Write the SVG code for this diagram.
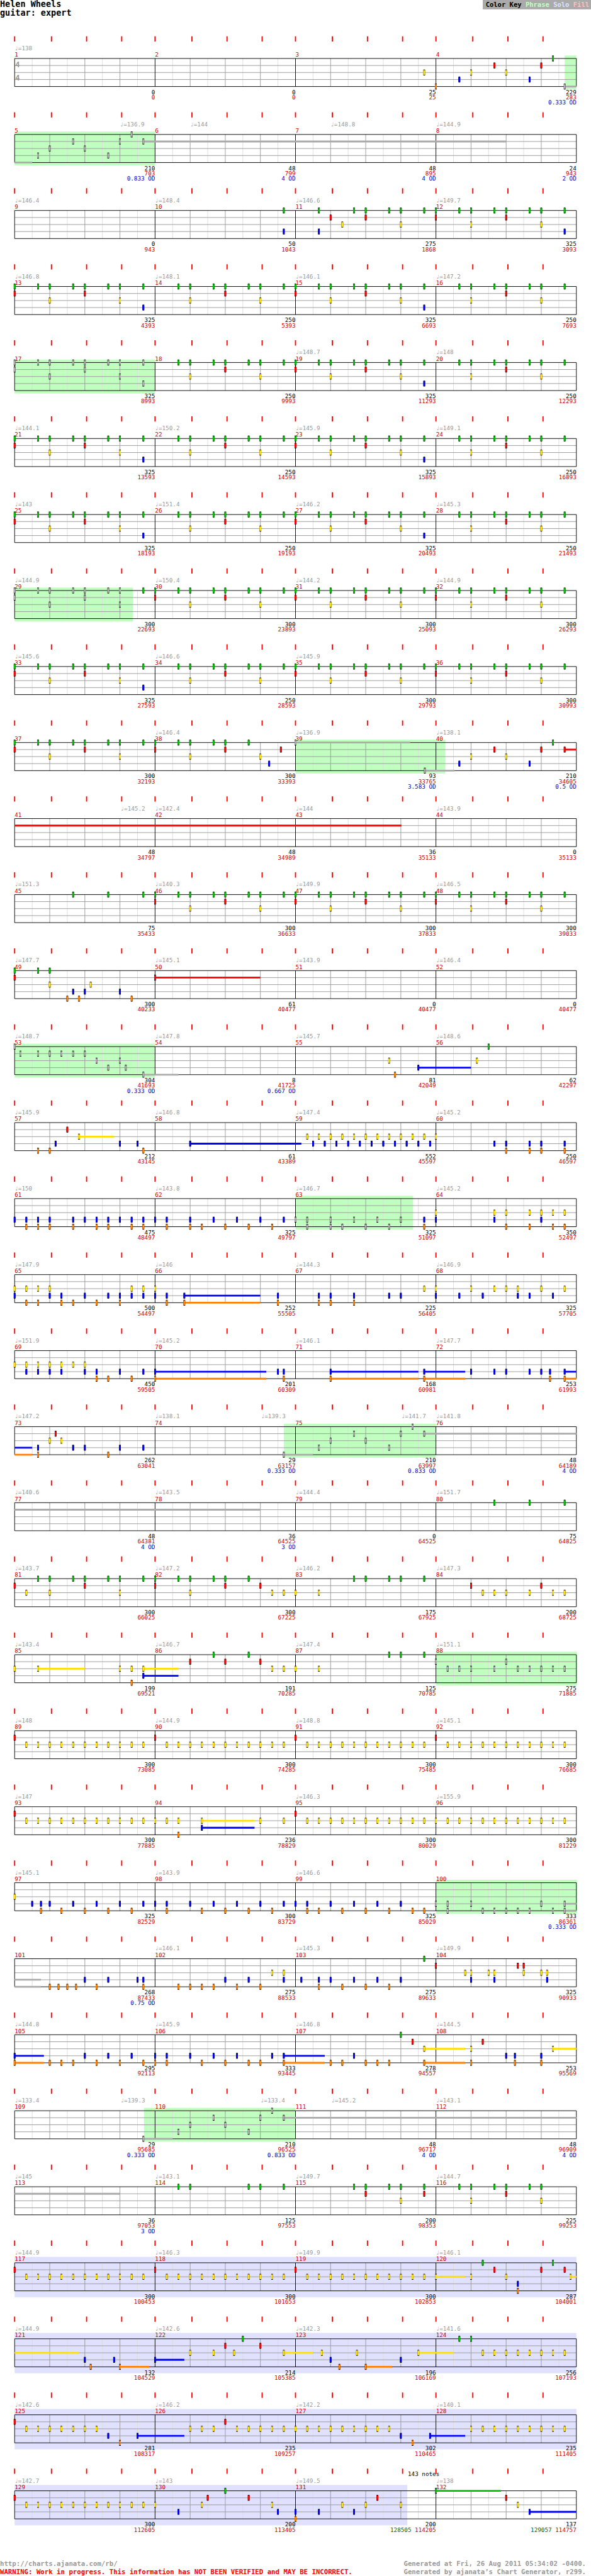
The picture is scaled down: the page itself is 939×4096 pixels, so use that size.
<svg xmlns="http://www.w3.org/2000/svg" width="939" height="4096" viewBox="0 0 939 4096">
<style>
text{font-family:"DejaVu Sans Mono","Liberation Mono",monospace;font-size:10px;fill:#000}
.tm{fill:#999}.mn{fill:#c00}.nr{fill:#c00}.nd{fill:#00c}.ng{fill:#060}
.e{text-anchor:end}
.ts{font-size:13px;font-weight:bold;fill:#999}
.ft{font-size:11.5px;font-weight:bold}
.ln{stroke:#999;stroke-width:1;fill:none}
.lt{stroke:#ddd;stroke-width:1;fill:none}
.bk{stroke:#000;stroke-width:1;fill:none}
.tk{stroke:#f00;stroke-width:2;fill:none}
.ph{fill:#c0ffc0}.so{fill:#e0e0ff}
.sG,.sR,.sY,.sB,.sO,.sS{stroke-width:3;fill:none}
.sG{stroke:#00c000}.sR{stroke:#f00}.sY{stroke:#ffe000}.sB{stroke:#00f}.sO{stroke:#ff8000}.sS{stroke:#aaa}
</style>
<defs>
<g id="staff">
<path class="lt" d="M55 0v48M115 0v48M175 0v48M235 0v48M295 0v48M355 0v48M415 0v48M475 0v48M535 0v48M595 0v48M655 0v48M715 0v48M775 0v48M835 0v48M895 0v48M955 0v48"/>
<path class="ln" d="M85 0v48M145 0v48M205 0v48M325 0v48M385 0v48M445 0v48M565 0v48M625 0v48M685 0v48M805 0v48M865 0v48M925 0v48M25 12H985M25 24H985M25 36H985"/>
<path class="bk" d="M25 0H985V48H25ZM265 0v48M505 0v48M745 0v48"/>
<path class="tk" d="M25 -38v9M88 -38v9M148 -38v9M208 -38v9M265 -38v9M328 -38v9M388 -38v9M448 -38v9M505 -38v9M568 -38v9M628 -38v9M688 -38v9M745 -38v9M808 -38v9M868 -38v9M928 -38v9"/>
</g>
<g id="G"><rect x="-1.5" y="-5" width="3" height="10"/><rect x="-1.5" y="-4" width="3" height="8" fill="#00c000"/></g>
<g id="R"><rect x="-1.5" y="7" width="3" height="10"/><rect x="-1.5" y="8" width="3" height="8" fill="#f00"/></g>
<g id="Y"><rect x="-1.5" y="19" width="3" height="10"/><rect x="-1.5" y="20" width="3" height="8" fill="#ffe000"/></g>
<g id="B"><rect x="-1.5" y="31" width="3" height="10"/><rect x="-1.5" y="32" width="3" height="8" fill="#00f"/></g>
<g id="O"><rect x="-1.5" y="43" width="3" height="10"/><rect x="-1.5" y="44" width="3" height="8" fill="#ff8000"/></g>
<g id="S0"><rect x="-1.5" y="-5" width="3" height="10"/><rect x="-1.5" y="-4" width="3" height="8" fill="#aaa"/></g>
<g id="S1"><rect x="-1.5" y="7" width="3" height="10"/><rect x="-1.5" y="8" width="3" height="8" fill="#aaa"/></g>
<g id="S2"><rect x="-1.5" y="19" width="3" height="10"/><rect x="-1.5" y="20" width="3" height="8" fill="#aaa"/></g>
<g id="S3"><rect x="-1.5" y="31" width="3" height="10"/><rect x="-1.5" y="32" width="3" height="8" fill="#aaa"/></g>
<g id="S4"><rect x="-1.5" y="43" width="3" height="10"/><rect x="-1.5" y="44" width="3" height="8" fill="#aaa"/></g>
<g id="Y11"><use href="#Y"/><use href="#Y" x="20"/><use href="#Y" x="40"/><use href="#Y" x="60"/><use href="#Y" x="80"/><use href="#Y" x="100"/><use href="#Y" x="120"/><use href="#Y" x="140"/><use href="#Y" x="160"/><use href="#Y" x="180"/><use href="#Y" x="200"/></g>
<g id="B11"><use href="#B"/><use href="#B" x="20"/><use href="#B" x="40"/><use href="#B" x="60"/><use href="#B" x="80"/><use href="#B" x="100"/><use href="#B" x="120"/><use href="#B" x="140"/><use href="#B" x="160"/><use href="#B" x="180"/><use href="#B" x="200"/></g>
<g id="PY"><use href="#R"/><use href="#Y11" x="20"/></g>
<g id="PB"><use href="#G" x="40"/><use href="#G" x="60"/><use href="#Y" x="60"/><use href="#G" x="100"/><use href="#G" x="120"/><use href="#R" x="120"/><use href="#G" x="160"/><use href="#G" x="180"/><use href="#Y" x="180"/><use href="#G" x="220"/></g>
<g id="PA0"><use href="#G"/><use href="#R"/><use href="#PB"/></g>
<g id="PA"><use href="#PA0"/><use href="#B" x="220"/></g>
<g id="PAs"><use href="#S0"/><use href="#S1"/><use href="#S0" x="40"/><use href="#S0" x="60"/><use href="#S2" x="60"/><use href="#S0" x="100"/><use href="#S0" x="120"/><use href="#S1" x="120"/><use href="#S0" x="160"/><use href="#S0" x="180"/><use href="#S2" x="180"/><use href="#S0" x="220"/><use href="#S3" x="220"/></g>
</defs>
<rect width="939" height="4096" fill="#fff"/>
<g transform="scale(0.9297)">
<g id="header">
<text x="0" y="12" style="font-size:14.5px;font-weight:bold">Helen Wheels</text>
<text x="0" y="27" style="font-size:14.5px;font-weight:bold">guitar: expert</text>
<rect x="825" y="0" width="185" height="16" fill="#aaa"/>
<text x="830" y="12" style="font-size:11.3px;font-weight:bold"><tspan>Color Key</tspan> <tspan style="fill:#c0ffc0">Phrase</tspan> <tspan style="fill:#e0e0ff">Solo</tspan> <tspan style="fill:#ffc0c0">Fill</tspan></text>
</g>

<g id="r1" transform="translate(0,100)">
<rect class="ph" x="965" y="-5" width="20" height="58"/>
<use href="#staff"/>
<text class="ts" x="26" y="15">4</text><text class="ts" x="26" y="38">4</text>
<text class="tm" x="25" y="-14">♩=138</text>
<text class="mn" y="-3"><tspan x="25">1</tspan><tspan x="265">2</tspan><tspan x="505">3</tspan><tspan x="745">4</tspan></text>
<text class="e" y="61"><tspan x="265">0</tspan><tspan x="505">0</tspan><tspan x="745">25</tspan><tspan x="985">229</tspan></text>
<text class="e nr" y="70"><tspan x="265">0</tspan><tspan x="505">0</tspan><tspan x="745">25</tspan><tspan x="985">283</tspan></text>
<text class="e nd" y="79" x="985">0.333 OD</text>
<g transform="translate(25,0)"><path class="sS" d="M940 48H960"/>
<use href="#Y" x="700"/><use href="#O" x="720"/><use href="#B" x="760"/><use href="#Y" x="780"/><use href="#R" x="820"/><use href="#Y" x="840"/><use href="#B" x="880"/><use href="#R" x="900"/><use href="#G" x="920"/><use href="#S4" x="940"/></g>
</g>

<g id="r2" transform="translate(0,230)">
<rect class="ph" x="25" y="-5" width="240" height="58"/>
<use href="#staff"/>
<text class="tm" y="-14"><tspan x="205">♩=136.9</tspan><tspan x="325">♩=144</tspan><tspan x="565">♩=148.8</tspan><tspan x="745">♩=144.9</tspan></text>
<text class="mn" y="-3"><tspan x="25">5</tspan><tspan x="265">6</tspan><tspan x="505">7</tspan><tspan x="745">8</tspan></text>
<text class="e" y="61"><tspan x="265">210</tspan><tspan x="505">48</tspan><tspan x="745">48</tspan><tspan x="985">24</tspan></text>
<text class="e nr" y="70"><tspan x="265">703</tspan><tspan x="505">799</tspan><tspan x="745">895</tspan><tspan x="985">943</tspan></text>
<text class="e nd" y="79"><tspan x="265">0.833 OD</tspan><tspan x="505">4 OD</tspan><tspan x="745">4 OD</tspan><tspan x="985">2 OD</tspan></text>
<g transform="translate(25,0)"><path class="sS" d="M0 48H30M220 12H840"/>
<use href="#S3" x="40"/><use href="#S2" x="60"/><use href="#S1" x="100"/><use href="#S2" x="120"/><use href="#S3" x="160"/><use href="#S1" x="180"/><use href="#S0" x="200"/><use href="#S1" x="220"/></g>
</g>

<g id="r3" transform="translate(0,360)">
<use href="#staff"/>
<text class="tm" y="-14"><tspan x="25">♩=146.4</tspan><tspan x="265">♩=148.4</tspan><tspan x="505">♩=146.6</tspan><tspan x="745">♩=149.7</tspan></text>
<text class="mn" y="-3"><tspan x="25">9</tspan><tspan x="265">10</tspan><tspan x="505">11</tspan><tspan x="745">12</tspan></text>
<text class="e" y="61"><tspan x="265">0</tspan><tspan x="505">50</tspan><tspan x="745">275</tspan><tspan x="985">325</tspan></text>
<text class="e nr" y="70"><tspan x="265">943</tspan><tspan x="505">1043</tspan><tspan x="745">1868</tspan><tspan x="985">3093</tspan></text>
<g transform="translate(25,0)">
<use href="#G" x="460"/><use href="#B" x="460"/><use href="#G" x="520"/><use href="#B" x="520"/><use href="#R" x="540"/><use href="#Y" x="560"/><use href="#G" x="580"/><use href="#G" x="600"/><use href="#R" x="600"/><use href="#G" x="640"/><use href="#G" x="660"/><use href="#Y" x="660"/><use href="#G" x="700"/><use href="#PA" x="720"/></g>
</g>

<g id="r4" transform="translate(0,490)">
<use href="#staff"/>
<text class="tm" y="-14"><tspan x="25">♩=146.8</tspan><tspan x="265">♩=148.1</tspan><tspan x="505">♩=146.1</tspan><tspan x="745">♩=147.2</tspan></text>
<text class="mn" y="-3"><tspan x="25">13</tspan><tspan x="265">14</tspan><tspan x="505">15</tspan><tspan x="745">16</tspan></text>
<text class="e" y="61"><tspan x="265">325</tspan><tspan x="505">250</tspan><tspan x="745">325</tspan><tspan x="985">250</tspan></text>
<text class="e nr" y="70"><tspan x="265">4393</tspan><tspan x="505">5393</tspan><tspan x="745">6693</tspan><tspan x="985">7693</tspan></text>
<g transform="translate(25,0)"><use href="#PA"/><use href="#PB" x="240"/><use href="#PA" x="480"/><use href="#PB" x="720"/></g>
</g>

<g id="r5" transform="translate(0,620)">
<rect class="ph" x="25" y="-5" width="240" height="58"/>
<use href="#staff"/>
<text class="tm" y="-14"><tspan x="505">♩=148.7</tspan><tspan x="745">♩=148</tspan></text>
<text class="mn" y="-3"><tspan x="25">17</tspan><tspan x="265">18</tspan><tspan x="505">19</tspan><tspan x="745">20</tspan></text>
<text class="e" y="61"><tspan x="265">325</tspan><tspan x="505">250</tspan><tspan x="745">325</tspan><tspan x="985">250</tspan></text>
<text class="e nr" y="70"><tspan x="265">8993</tspan><tspan x="505">9993</tspan><tspan x="745">11293</tspan><tspan x="985">12293</tspan></text>
<g transform="translate(25,0)"><use href="#PAs"/><use href="#PB" x="240"/><use href="#PA" x="480"/><use href="#PB" x="720"/></g>
</g>

<g id="r6" transform="translate(0,750)">
<use href="#staff"/>
<text class="tm" y="-14"><tspan x="25">♩=144.1</tspan><tspan x="265">♩=150.2</tspan><tspan x="505">♩=145.9</tspan><tspan x="745">♩=149.1</tspan></text>
<text class="mn" y="-3"><tspan x="25">21</tspan><tspan x="265">22</tspan><tspan x="505">23</tspan><tspan x="745">24</tspan></text>
<text class="e" y="61"><tspan x="265">325</tspan><tspan x="505">250</tspan><tspan x="745">325</tspan><tspan x="985">250</tspan></text>
<text class="e nr" y="70"><tspan x="265">13593</tspan><tspan x="505">14593</tspan><tspan x="745">15893</tspan><tspan x="985">16893</tspan></text>
<g transform="translate(25,0)"><use href="#PA"/><use href="#PB" x="240"/><use href="#PA" x="480"/><use href="#PB" x="720"/></g>
</g>

<g id="r7" transform="translate(0,880)">
<use href="#staff"/>
<text class="tm" y="-14"><tspan x="25">♩=143</tspan><tspan x="265">♩=151.4</tspan><tspan x="505">♩=146.2</tspan><tspan x="745">♩=145.3</tspan></text>
<text class="mn" y="-3"><tspan x="25">25</tspan><tspan x="265">26</tspan><tspan x="505">27</tspan><tspan x="745">28</tspan></text>
<text class="e" y="61"><tspan x="265">325</tspan><tspan x="505">250</tspan><tspan x="745">325</tspan><tspan x="985">250</tspan></text>
<text class="e nr" y="70"><tspan x="265">18193</tspan><tspan x="505">19193</tspan><tspan x="745">20493</tspan><tspan x="985">21493</tspan></text>
<g transform="translate(25,0)"><use href="#PA"/><use href="#PB" x="240"/><use href="#PA" x="480"/><use href="#PB" x="720"/></g>
</g>

<g id="r8" transform="translate(0,1010)">
<rect class="ph" x="25" y="-5" width="202" height="58"/>
<use href="#staff"/>
<text class="tm" y="-14"><tspan x="25">♩=144.9</tspan><tspan x="265">♩=150.4</tspan><tspan x="505">♩=144.2</tspan><tspan x="745">♩=144.9</tspan></text>
<text class="mn" y="-3"><tspan x="25">29</tspan><tspan x="265">30</tspan><tspan x="505">31</tspan><tspan x="745">32</tspan></text>
<text class="e" y="61"><tspan x="265">300</tspan><tspan x="505">300</tspan><tspan x="745">300</tspan><tspan x="985">300</tspan></text>
<text class="e nr" y="70"><tspan x="265">22693</tspan><tspan x="505">23893</tspan><tspan x="745">25093</tspan><tspan x="985">26293</tspan></text>
<g transform="translate(25,0)"><use href="#S0"/><use href="#S1"/><use href="#S0" x="40"/><use href="#S0" x="60"/><use href="#S2" x="60"/><use href="#S0" x="100"/><use href="#S0" x="120"/><use href="#S1" x="120"/><use href="#S0" x="160"/><use href="#S0" x="180"/><use href="#S2" x="180"/><use href="#G" x="220"/><use href="#PA0" x="240"/><use href="#PA0" x="480"/><use href="#PA0" x="720"/></g>
</g>

<g id="r9" transform="translate(0,1140)">
<use href="#staff"/>
<text class="tm" y="-14"><tspan x="25">♩=145.6</tspan><tspan x="265">♩=146.6</tspan><tspan x="505">♩=145.9</tspan></text>
<text class="mn" y="-3"><tspan x="25">33</tspan><tspan x="265">34</tspan><tspan x="505">35</tspan><tspan x="745">36</tspan></text>
<text class="e" y="61"><tspan x="265">325</tspan><tspan x="505">250</tspan><tspan x="745">300</tspan><tspan x="985">300</tspan></text>
<text class="e nr" y="70"><tspan x="265">27593</tspan><tspan x="505">28593</tspan><tspan x="745">29793</tspan><tspan x="985">30993</tspan></text>
<g transform="translate(25,0)"><use href="#PA"/><use href="#PB" x="240"/><use href="#PA0" x="480"/><use href="#PA0" x="720"/></g>
</g>

<g id="r10" transform="translate(0,1270)">
<rect class="ph" x="505" y="-5" width="256" height="58"/>
<use href="#staff"/>
<text class="tm" y="-14"><tspan x="265">♩=146.4</tspan><tspan x="505">♩=136.9</tspan><tspan x="745">♩=138.1</tspan></text>
<text class="mn" y="-3"><tspan x="25">37</tspan><tspan x="265">38</tspan><tspan x="505">39</tspan><tspan x="745">40</tspan></text>
<text class="e" y="61"><tspan x="265">300</tspan><tspan x="505">300</tspan><tspan x="745">93</tspan><tspan x="985">210</tspan></text>
<text class="e nr" y="70"><tspan x="265">32193</tspan><tspan x="505">33393</tspan><tspan x="745">33765</tspan><tspan x="985">34605</tspan></text>
<text class="e nd" y="79"><tspan x="745">3.583 OD</tspan><tspan x="985">0.5 OD</tspan></text>
<g transform="translate(25,0)"><path class="sS" d="M480 0H676M701 48H752"/><path class="sR" d="M940 12H960"/>
<use href="#PA0"/><use href="#G" x="240"/><use href="#R" x="240"/><use href="#G" x="280"/><use href="#G" x="300"/><use href="#Y" x="300"/><use href="#G" x="340"/><use href="#G" x="360"/><use href="#R" x="360"/><use href="#G" x="400"/><use href="#Y" x="420"/><use href="#B" x="435"/><use href="#R" x="455"/><use href="#S0" x="480"/><use href="#S4" x="701"/><use href="#B" x="760"/><use href="#Y" x="780"/><use href="#R" x="820"/><use href="#Y" x="840"/><use href="#B" x="880"/><use href="#R" x="900"/><use href="#G" x="920"/><use href="#R" x="940"/></g>
</g>

<g id="r11" transform="translate(0,1400)">
<use href="#staff"/>
<text class="tm" y="-14"><tspan x="206">♩=145.2</tspan><tspan x="265">♩=142.4</tspan><tspan x="505">♩=144</tspan><tspan x="745">♩=143.9</tspan></text>
<text class="mn" y="-3"><tspan x="25">41</tspan><tspan x="265">42</tspan><tspan x="505">43</tspan><tspan x="745">44</tspan></text>
<text class="e" y="61"><tspan x="265">48</tspan><tspan x="505">48</tspan><tspan x="745">36</tspan><tspan x="985">0</tspan></text>
<text class="e nr" y="70"><tspan x="265">34797</tspan><tspan x="505">34989</tspan><tspan x="745">35133</tspan><tspan x="985">35133</tspan></text>
<g transform="translate(25,0)"><path class="sR" d="M0 12H661"/></g>
</g>

<g id="r12" transform="translate(0,1530)">
<use href="#staff"/>
<text class="tm" y="-14"><tspan x="25">♩=151.3</tspan><tspan x="265">♩=140.3</tspan><tspan x="505">♩=149.9</tspan><tspan x="745">♩=146.5</tspan></text>
<text class="mn" y="-3"><tspan x="25">45</tspan><tspan x="265">46</tspan><tspan x="505">47</tspan><tspan x="745">48</tspan></text>
<text class="e" y="61"><tspan x="265">75</tspan><tspan x="505">300</tspan><tspan x="745">300</tspan><tspan x="985">300</tspan></text>
<text class="e nr" y="70"><tspan x="265">35433</tspan><tspan x="505">36633</tspan><tspan x="745">37833</tspan><tspan x="985">39033</tspan></text>
<g transform="translate(25,0)"><use href="#G" x="100"/><use href="#G" x="160"/><use href="#G" x="220"/><use href="#PA0" x="240"/><use href="#PA0" x="480"/><use href="#PA0" x="720"/></g>
</g>

<g id="r13" transform="translate(0,1660)">
<use href="#staff"/>
<text class="tm" y="-14"><tspan x="25">♩=147.7</tspan><tspan x="265">♩=145.1</tspan><tspan x="505">♩=143.9</tspan><tspan x="745">♩=146.4</tspan></text>
<text class="mn" y="-3"><tspan x="25">49</tspan><tspan x="265">50</tspan><tspan x="505">51</tspan><tspan x="745">52</tspan></text>
<text class="e" y="61"><tspan x="265">300</tspan><tspan x="505">61</tspan><tspan x="745">0</tspan><tspan x="985">0</tspan></text>
<text class="e nr" y="70"><tspan x="265">40233</tspan><tspan x="505">40477</tspan><tspan x="745">40477</tspan><tspan x="985">40477</tspan></text>
<g transform="translate(25,0)"><path class="sR" d="M240 12H420"/>
<use href="#G"/><use href="#R"/><use href="#G" x="40"/><use href="#G" x="60"/><use href="#Y" x="60"/><use href="#O" x="90"/><use href="#B" x="100"/><use href="#O" x="110"/><use href="#B" x="120"/><use href="#Y" x="130"/><use href="#B" x="180"/><use href="#O" x="200"/><use href="#R" x="240"/></g>
</g>

<g id="r14" transform="translate(0,1790)">
<rect class="ph" x="25" y="-5" width="240" height="58"/>
<use href="#staff"/>
<text class="tm" y="-14"><tspan x="25">♩=148.7</tspan><tspan x="265">♩=147.8</tspan><tspan x="505">♩=145.7</tspan><tspan x="745">♩=148.6</tspan></text>
<text class="mn" y="-3"><tspan x="25">53</tspan><tspan x="265">54</tspan><tspan x="505">55</tspan><tspan x="745">56</tspan></text>
<text class="e" y="61"><tspan x="265">304</tspan><tspan x="505">8</tspan><tspan x="745">81</tspan><tspan x="985">62</tspan></text>
<text class="e nr" y="70"><tspan x="265">41693</tspan><tspan x="505">41725</tspan><tspan x="745">42049</tspan><tspan x="985">42297</tspan></text>
<text class="e nd" y="79"><tspan x="265">0.333 OD</tspan><tspan x="505">0.667 OD</tspan></text>
<g transform="translate(25,0)"><path class="sS" d="M220 48H280"/><path class="sB" d="M690 36H780"/>
<use href="#S0"/><use href="#S1" x="10"/><use href="#S1" x="40"/><use href="#S1" x="60"/><use href="#S1" x="80"/><use href="#S1" x="100"/><use href="#S1" x="120"/><use href="#S2" x="140"/><use href="#S3" x="160"/><use href="#S2" x="180"/><use href="#S3" x="190"/><use href="#S4" x="220"/><use href="#Y" x="640"/><use href="#O" x="650"/><use href="#B" x="690"/><use href="#Y" x="790"/><use href="#G" x="810"/></g>
</g>

<g id="r15" transform="translate(0,1920)">
<use href="#staff"/>
<text class="tm" y="-14"><tspan x="25">♩=145.9</tspan><tspan x="265">♩=146.8</tspan><tspan x="505">♩=147.4</tspan><tspan x="745">♩=145.2</tspan></text>
<text class="mn" y="-3"><tspan x="25">57</tspan><tspan x="265">58</tspan><tspan x="505">59</tspan><tspan x="745">60</tspan></text>
<text class="e" y="61"><tspan x="265">212</tspan><tspan x="505">61</tspan><tspan x="745">552</tspan><tspan x="985">250</tspan></text>
<text class="e nr" y="70"><tspan x="265">43145</tspan><tspan x="505">43389</tspan><tspan x="745">45597</tspan><tspan x="985">46597</tspan></text>
<g transform="translate(25,0)"><path class="sY" d="M110 24H170"/><path class="sB" d="M300 36H490"/>
<use href="#O" x="40"/><use href="#O" x="60"/><use href="#B" x="70"/><use href="#R" x="90"/><use href="#Y" x="110"/><use href="#B" x="180"/><use href="#B" x="210"/><use href="#O" x="220"/><use href="#B" x="300"/><use href="#Y11" x="500"/><use href="#Y" x="720"/><use href="#B11" x="510"/><use href="#B" x="820"/><use href="#B" x="840"/><use href="#O" x="840"/><use href="#B" x="880"/><use href="#O" x="880"/><use href="#B" x="900"/><use href="#O" x="900"/><use href="#B" x="940"/><use href="#O" x="940"/></g>
</g>

<g id="r16" transform="translate(0,2050)">
<rect class="ph" x="505" y="-5" width="201" height="58"/>
<use href="#staff"/>
<text class="tm" y="-14"><tspan x="25">♩=150</tspan><tspan x="265">♩=143.8</tspan><tspan x="505">♩=146.7</tspan><tspan x="745">♩=145.2</tspan></text>
<text class="mn" y="-3"><tspan x="25">61</tspan><tspan x="265">62</tspan><tspan x="505">63</tspan><tspan x="745">64</tspan></text>
<text class="e" y="61"><tspan x="265">475</tspan><tspan x="505">325</tspan><tspan x="745">325</tspan><tspan x="985">350</tspan></text>
<text class="e nr" y="70"><tspan x="265">48497</tspan><tspan x="505">49797</tspan><tspan x="745">51097</tspan><tspan x="985">52497</tspan></text>
<g transform="translate(25,0)">
<use href="#B"/><use href="#B" x="20"/><use href="#O" x="20"/><use href="#B" x="40"/><use href="#O" x="40"/><use href="#B" x="60"/><use href="#O" x="60"/><use href="#B" x="100"/><use href="#O" x="100"/><use href="#B" x="120"/><use href="#B" x="140"/><use href="#O" x="140"/><use href="#B" x="160"/><use href="#O" x="160"/><use href="#B" x="180"/><use href="#B" x="200"/><use href="#O" x="200"/><use href="#B" x="220"/><use href="#O" x="220"/>
<use href="#B" x="240"/><use href="#B" x="260"/><use href="#O" x="260"/><use href="#B" x="300"/><use href="#O" x="300"/><use href="#O" x="320"/><use href="#B" x="340"/><use href="#O" x="360"/><use href="#B" x="380"/><use href="#O" x="400"/><use href="#B" x="420"/><use href="#O" x="440"/><use href="#B" x="460"/>
<use href="#S3" x="480"/><use href="#S3" x="500"/><use href="#S4" x="500"/><use href="#S3" x="540"/><use href="#S4" x="540"/><use href="#S4" x="560"/><use href="#S3" x="580"/><use href="#S4" x="600"/><use href="#S3" x="620"/><use href="#S4" x="640"/><use href="#S3" x="660"/><use href="#B" x="700"/><use href="#O" x="700"/>
<use href="#B" x="720"/><use href="#Y" x="720"/><use href="#Y" x="820"/><use href="#B" x="820"/><use href="#Y" x="840"/><use href="#O" x="840"/><use href="#Y" x="880"/><use href="#O" x="880"/><use href="#Y" x="900"/><use href="#B" x="900"/><use href="#Y" x="920"/><use href="#O" x="920"/><use href="#Y" x="940"/><use href="#O" x="940"/></g>
</g>

<g id="r17" transform="translate(0,2180)">
<use href="#staff"/>
<text class="tm" y="-14"><tspan x="25">♩=147.9</tspan><tspan x="265">♩=146</tspan><tspan x="505">♩=144.3</tspan><tspan x="745">♩=146.9</tspan></text>
<text class="mn" y="-3"><tspan x="25">65</tspan><tspan x="265">66</tspan><tspan x="505">67</tspan><tspan x="745">68</tspan></text>
<text class="e" y="61"><tspan x="265">500</tspan><tspan x="505">252</tspan><tspan x="745">225</tspan><tspan x="985">325</tspan></text>
<text class="e nr" y="70"><tspan x="265">54497</tspan><tspan x="505">55505</tspan><tspan x="745">56405</tspan><tspan x="985">57705</tspan></text>
<g transform="translate(25,0)"><path class="sB" d="M290 36H420"/><path class="sO" d="M290 48H420"/>
<use href="#Y"/><use href="#B"/><use href="#Y" x="20"/><use href="#O" x="20"/><use href="#Y" x="40"/><use href="#O" x="40"/><use href="#Y" x="60"/><use href="#B" x="60"/><use href="#B" x="80"/><use href="#O" x="80"/><use href="#O" x="100"/><use href="#B" x="120"/><use href="#O" x="140"/><use href="#B" x="160"/><use href="#B" x="180"/><use href="#O" x="180"/><use href="#Y" x="200"/><use href="#B" x="200"/><use href="#Y" x="220"/><use href="#B" x="220"/><use href="#Y" x="240"/><use href="#B" x="240"/><use href="#B" x="260"/><use href="#O" x="260"/><use href="#B" x="290"/><use href="#O" x="290"/><use href="#B" x="450"/><use href="#O" x="450"/><use href="#B" x="520"/><use href="#O" x="520"/><use href="#B" x="540"/><use href="#O" x="540"/><use href="#B" x="580"/><use href="#O" x="580"/><use href="#B" x="640"/><use href="#B" x="660"/><use href="#Y" x="700"/><use href="#Y" x="720"/><use href="#B" x="720"/><use href="#B" x="760"/><use href="#Y" x="780"/><use href="#B" x="800"/><use href="#Y" x="820"/><use href="#Y" x="840"/><use href="#Y" x="860"/><use href="#B" x="860"/><use href="#B" x="880"/><use href="#Y" x="900"/><use href="#B" x="920"/><use href="#Y" x="940"/></g>
</g>

<g id="r18" transform="translate(0,2310)">
<use href="#staff"/>
<text class="tm" y="-14"><tspan x="25">♩=151.9</tspan><tspan x="265">♩=145.2</tspan><tspan x="505">♩=146.1</tspan><tspan x="745">♩=147.7</tspan></text>
<text class="mn" y="-3"><tspan x="25">69</tspan><tspan x="265">70</tspan><tspan x="505">71</tspan><tspan x="745">72</tspan></text>
<text class="e" y="61"><tspan x="265">450</tspan><tspan x="505">201</tspan><tspan x="745">168</tspan><tspan x="985">253</tspan></text>
<text class="e nr" y="70"><tspan x="265">59505</tspan><tspan x="505">60309</tspan><tspan x="745">60981</tspan><tspan x="985">61993</tspan></text>
<g transform="translate(25,0)"><path class="sB" d="M240 36H430M540 36H690M700 36H770M940 36H960"/><path class="sO" d="M240 48H430M540 48H690M700 48H770M940 48H960"/>
<use href="#Y"/><use href="#Y" x="20"/><use href="#B" x="20"/><use href="#Y" x="40"/><use href="#B" x="40"/><use href="#Y" x="60"/><use href="#B" x="60"/><use href="#Y" x="80"/><use href="#B" x="80"/><use href="#Y" x="100"/><use href="#Y" x="120"/><use href="#B" x="120"/><use href="#B" x="140"/><use href="#O" x="140"/><use href="#O" x="160"/><use href="#B" x="180"/><use href="#O" x="200"/><use href="#B" x="220"/><use href="#B" x="240"/><use href="#O" x="240"/><use href="#B" x="450"/><use href="#B" x="460"/><use href="#O" x="460"/><use href="#B" x="540"/><use href="#O" x="540"/><use href="#B" x="700"/><use href="#O" x="700"/><use href="#B" x="780"/><use href="#B" x="820"/><use href="#B" x="840"/><use href="#B" x="880"/><use href="#B" x="900"/><use href="#B" x="915"/><use href="#O" x="915"/><use href="#B" x="940"/><use href="#O" x="940"/></g>
</g>

<g id="r19" transform="translate(0,2440)">
<rect class="ph" x="485" y="-5" width="260" height="58"/>
<use href="#staff"/>
<text class="tm" y="-14"><tspan x="25">♩=147.2</tspan><tspan x="265">♩=138.1</tspan><tspan x="446">♩=139.3</tspan><tspan x="686">♩=141.7</tspan><tspan x="745">♩=141.8</tspan></text>
<text class="mn" y="-3"><tspan x="25">73</tspan><tspan x="265">74</tspan><tspan x="505">75</tspan><tspan x="745">76</tspan></text>
<text class="e" y="61"><tspan x="265">262</tspan><tspan x="505">29</tspan><tspan x="745">210</tspan><tspan x="985">48</tspan></text>
<text class="e nr" y="70"><tspan x="265">63041</tspan><tspan x="505">63157</tspan><tspan x="745">63997</tspan><tspan x="985">64189</tspan></text>
<text class="e nd" y="79"><tspan x="505">0.333 OD</tspan><tspan x="745">0.833 OD</tspan><tspan x="985">4 OD</tspan></text>
<g transform="translate(25,0)"><path class="sB" d="M0 36H30"/><path class="sO" d="M0 48H30"/><path class="sS" d="M460 48H510M700 12H960"/>
<use href="#B" x="40"/><use href="#O" x="40"/><use href="#Y" x="60"/><use href="#R" x="70"/><use href="#Y" x="80"/><use href="#B" x="100"/><use href="#B" x="120"/><use href="#O" x="160"/><use href="#B" x="180"/><use href="#B" x="220"/><use href="#S4" x="460"/><use href="#S3" x="520"/><use href="#S2" x="540"/><use href="#S1" x="580"/><use href="#S2" x="600"/><use href="#S3" x="640"/><use href="#S1" x="660"/><use href="#S0" x="680"/><use href="#S1" x="700"/></g>
</g>

<g id="r20" transform="translate(0,2570)">
<use href="#staff"/>
<text class="tm" y="-14"><tspan x="25">♩=140.6</tspan><tspan x="265">♩=143.5</tspan><tspan x="505">♩=144.4</tspan><tspan x="745">♩=151.7</tspan></text>
<text class="mn" y="-3"><tspan x="25">77</tspan><tspan x="265">78</tspan><tspan x="505">79</tspan><tspan x="745">80</tspan></text>
<text class="e" y="61"><tspan x="265">48</tspan><tspan x="505">36</tspan><tspan x="745">0</tspan><tspan x="985">75</tspan></text>
<text class="e nr" y="70"><tspan x="265">64381</tspan><tspan x="505">64525</tspan><tspan x="745">64525</tspan><tspan x="985">64825</tspan></text>
<text class="e nd" y="79"><tspan x="265">4 OD</tspan><tspan x="505">3 OD</tspan></text>
<g transform="translate(25,0)"><path class="sS" d="M0 12H420"/><use href="#G" x="820"/><use href="#G" x="880"/><use href="#G" x="940"/></g>
</g>

<g id="r21" transform="translate(0,2700)">
<use href="#staff"/>
<text class="tm" y="-14"><tspan x="25">♩=143.7</tspan><tspan x="265">♩=147.2</tspan><tspan x="505">♩=146.2</tspan><tspan x="745">♩=147.3</tspan></text>
<text class="mn" y="-3"><tspan x="25">81</tspan><tspan x="265">82</tspan><tspan x="505">83</tspan><tspan x="745">84</tspan></text>
<text class="e" y="61"><tspan x="265">300</tspan><tspan x="505">300</tspan><tspan x="745">175</tspan><tspan x="985">200</tspan></text>
<text class="e nr" y="70"><tspan x="265">66025</tspan><tspan x="505">67225</tspan><tspan x="745">67925</tspan><tspan x="985">68725</tspan></text>
<g transform="translate(25,0)">
<use href="#R"/><use href="#Y" x="20"/><use href="#G" x="40"/><use href="#G" x="60"/><use href="#Y" x="60"/><use href="#G" x="100"/><use href="#G" x="120"/><use href="#R" x="120"/><use href="#G" x="160"/><use href="#G" x="180"/><use href="#Y" x="180"/><use href="#G" x="220"/><use href="#G" x="240"/><use href="#R" x="240"/><use href="#G" x="280"/><use href="#G" x="300"/><use href="#Y" x="300"/><use href="#G" x="340"/><use href="#G" x="360"/><use href="#R" x="360"/><use href="#G" x="400"/><use href="#R" x="420"/><use href="#Y" x="440"/><use href="#Y" x="460"/><use href="#Y" x="480"/><use href="#Y" x="520"/><use href="#G" x="580"/><use href="#G" x="600"/><use href="#G" x="640"/><use href="#G" x="660"/><use href="#G" x="700"/><use href="#R" x="780"/><use href="#Y" x="800"/><use href="#Y" x="820"/><use href="#Y" x="840"/><use href="#Y" x="880"/><use href="#R" x="900"/><use href="#Y" x="920"/><use href="#Y" x="940"/></g>
</g>

<g id="r22" transform="translate(0,2830)">
<rect class="ph" x="745" y="-5" width="241" height="58"/>
<use href="#staff"/>
<text class="tm" y="-14"><tspan x="25">♩=143.4</tspan><tspan x="265">♩=146.7</tspan><tspan x="505">♩=147.4</tspan><tspan x="745">♩=151.1</tspan></text>
<text class="mn" y="-3"><tspan x="25">85</tspan><tspan x="265">86</tspan><tspan x="505">87</tspan><tspan x="745">88</tspan></text>
<text class="e" y="61"><tspan x="265">199</tspan><tspan x="505">191</tspan><tspan x="745">125</tspan><tspan x="985">275</tspan></text>
<text class="e nr" y="70"><tspan x="265">69521</tspan><tspan x="505">70285</tspan><tspan x="745">70785</tspan><tspan x="985">71885</tspan></text>
<g transform="translate(25,0)"><path class="sY" d="M40 24H120M220 24H280"/><path class="sB" d="M220 36H280"/>
<use href="#Y"/><use href="#Y" x="40"/><use href="#Y" x="180"/><use href="#Y" x="200"/><use href="#O" x="200"/><use href="#Y" x="220"/><use href="#B" x="220"/><use href="#R" x="300"/><use href="#G" x="340"/><use href="#R" x="360"/><use href="#G" x="400"/><use href="#R" x="420"/><use href="#Y" x="440"/><use href="#Y" x="460"/><use href="#Y" x="480"/><use href="#Y" x="520"/><use href="#G" x="640"/><use href="#G" x="660"/><use href="#G" x="700"/><use href="#S1" x="720"/><use href="#S2" x="740"/><use href="#S2" x="760"/><use href="#S2" x="780"/><use href="#S2" x="820"/><use href="#S1" x="840"/><use href="#S2" x="860"/><use href="#S2" x="880"/><use href="#S2" x="900"/><use href="#S2" x="920"/><use href="#S2" x="940"/></g>
</g>

<g id="r23" transform="translate(0,2960)">
<use href="#staff"/>
<text class="tm" y="-14"><tspan x="25">♩=148</tspan><tspan x="265">♩=144.9</tspan><tspan x="505">♩=148.8</tspan><tspan x="745">♩=145.1</tspan></text>
<text class="mn" y="-3"><tspan x="25">89</tspan><tspan x="265">90</tspan><tspan x="505">91</tspan><tspan x="745">92</tspan></text>
<text class="e" y="61"><tspan x="265">300</tspan><tspan x="505">300</tspan><tspan x="745">300</tspan><tspan x="985">300</tspan></text>
<text class="e nr" y="70"><tspan x="265">73085</tspan><tspan x="505">74285</tspan><tspan x="745">75485</tspan><tspan x="985">76685</tspan></text>
<g transform="translate(25,0)"><use href="#PY"/><use href="#PY" x="240"/><use href="#PY" x="480"/><use href="#PY" x="720"/></g>
</g>

<g id="r24" transform="translate(0,3090)">
<use href="#staff"/>
<text class="tm" y="-14"><tspan x="25">♩=147</tspan><tspan x="505">♩=146.3</tspan><tspan x="745">♩=155.9</tspan></text>
<text class="mn" y="-3"><tspan x="25">93</tspan><tspan x="265">94</tspan><tspan x="505">95</tspan><tspan x="745">96</tspan></text>
<text class="e" y="61"><tspan x="265">300</tspan><tspan x="505">236</tspan><tspan x="745">300</tspan><tspan x="985">300</tspan></text>
<text class="e nr" y="70"><tspan x="265">77885</tspan><tspan x="505">78829</tspan><tspan x="745">80029</tspan><tspan x="985">81229</tspan></text>
<g transform="translate(25,0)"><path class="sY" d="M320 24H410"/><path class="sB" d="M320 36H410"/>
<use href="#PY"/><use href="#Y" x="240"/><use href="#Y" x="260"/><use href="#Y" x="280"/><use href="#O" x="280"/><use href="#Y" x="320"/><use href="#B" x="320"/><use href="#Y" x="420"/><use href="#Y" x="460"/><use href="#PY" x="480"/><use href="#Y11" x="720"/><use href="#Y" x="940"/></g>
</g>

<g id="r25" transform="translate(0,3220)">
<rect class="ph" x="745" y="-5" width="241" height="58"/>
<use href="#staff"/>
<text class="tm" y="-14"><tspan x="25">♩=145.1</tspan><tspan x="265">♩=143.9</tspan><tspan x="505">♩=146.6</tspan></text>
<text class="mn" y="-3"><tspan x="25">97</tspan><tspan x="265">98</tspan><tspan x="505">99</tspan><tspan x="745">100</tspan></text>
<text class="e" y="61"><tspan x="265">325</tspan><tspan x="505">300</tspan><tspan x="745">325</tspan><tspan x="985">333</tspan></text>
<text class="e nr" y="70"><tspan x="265">82529</tspan><tspan x="505">83729</tspan><tspan x="745">85029</tspan><tspan x="985">86361</tspan></text>
<text class="e nd" y="79" x="985">0.333 OD</text>
<g transform="translate(25,0)"><path class="sS" d="M940 36H960M940 48H960"/>
<use href="#Y"/><use href="#B" x="30"/><use href="#B" x="45"/><use href="#O" x="45"/><use href="#B" x="60"/><use href="#O" x="80"/><use href="#B" x="100"/><use href="#O" x="120"/><use href="#B" x="140"/><use href="#O" x="160"/><use href="#B" x="180"/><use href="#O" x="200"/><use href="#B" x="220"/><use href="#B" x="240"/><use href="#B" x="260"/><use href="#O" x="260"/><use href="#B" x="300"/><use href="#O" x="320"/><use href="#B" x="340"/><use href="#O" x="360"/><use href="#B" x="380"/><use href="#O" x="400"/><use href="#B" x="420"/><use href="#O" x="440"/><use href="#B" x="460"/><use href="#B" x="480"/><use href="#B" x="500"/><use href="#O" x="500"/><use href="#O" x="520"/><use href="#B" x="540"/><use href="#O" x="560"/><use href="#B" x="580"/><use href="#O" x="600"/><use href="#B" x="620"/><use href="#O" x="640"/><use href="#B" x="660"/><use href="#O" x="680"/><use href="#O" x="700"/><use href="#S3" x="720"/><use href="#S3" x="740"/><use href="#S4" x="740"/><use href="#S3" x="780"/><use href="#S4" x="800"/><use href="#S4" x="820"/><use href="#S4" x="840"/><use href="#S4" x="860"/><use href="#S4" x="880"/><use href="#S3" x="900"/><use href="#S4" x="920"/><use href="#S3" x="940"/><use href="#S4" x="940"/></g>
</g>

<g id="r26" transform="translate(0,3350)">
<use href="#staff"/>
<text class="tm" y="-14"><tspan x="265">♩=146.1</tspan><tspan x="505">♩=145.3</tspan><tspan x="745">♩=149.9</tspan></text>
<text class="mn" y="-3"><tspan x="25">101</tspan><tspan x="265">102</tspan><tspan x="505">103</tspan><tspan x="745">104</tspan></text>
<text class="e" y="61"><tspan x="265">268</tspan><tspan x="505">275</tspan><tspan x="745">275</tspan><tspan x="985">325</tspan></text>
<text class="e nr" y="70"><tspan x="265">87433</tspan><tspan x="505">88533</tspan><tspan x="745">89633</tspan><tspan x="985">90933</tspan></text>
<text class="e nd" y="79" x="265">0.75 OD</text>
<g transform="translate(25,0)"><path class="sS" d="M0 36H45M0 48H45"/>
<use href="#O" x="60"/><use href="#O" x="75"/><use href="#O" x="90"/><use href="#O" x="105"/><use href="#B" x="120"/><use href="#O" x="140"/><use href="#B" x="160"/><use href="#B" x="210"/><use href="#B" x="220"/><use href="#O" x="220"/><use href="#O" x="280"/><use href="#O" x="300"/><use href="#O" x="320"/><use href="#O" x="340"/><use href="#B" x="360"/><use href="#O" x="380"/><use href="#B" x="400"/><use href="#O" x="420"/><use href="#Y" x="440"/><use href="#Y" x="460"/><use href="#B" x="460"/><use href="#B" x="490"/><use href="#B" x="520"/><use href="#O" x="520"/><use href="#B" x="540"/><use href="#O" x="560"/><use href="#B" x="580"/><use href="#O" x="600"/><use href="#B" x="620"/><use href="#O" x="640"/><use href="#B" x="660"/><use href="#G" x="700"/><use href="#R" x="720"/><use href="#Y" x="770"/><use href="#Y" x="780"/><use href="#B" x="780"/><use href="#Y" x="810"/><use href="#Y" x="820"/><use href="#B" x="820"/><use href="#R" x="860"/><use href="#R" x="870"/><use href="#Y" x="870"/><use href="#Y" x="900"/><use href="#Y" x="910"/><use href="#B" x="910"/></g>
</g>

<g id="r27" transform="translate(0,3480)">
<use href="#staff"/>
<text class="tm" y="-14"><tspan x="25">♩=144.8</tspan><tspan x="265">♩=145.9</tspan><tspan x="505">♩=146.8</tspan><tspan x="745">♩=144.5</tspan></text>
<text class="mn" y="-3"><tspan x="25">105</tspan><tspan x="265">106</tspan><tspan x="505">107</tspan><tspan x="745">108</tspan></text>
<text class="e" y="61"><tspan x="265">295</tspan><tspan x="505">333</tspan><tspan x="745">278</tspan><tspan x="985">253</tspan></text>
<text class="e nr" y="70"><tspan x="265">92113</tspan><tspan x="505">93445</tspan><tspan x="745">94557</tspan><tspan x="985">95569</tspan></text>
<g transform="translate(25,0)"><path class="sB" d="M0 36H50M460 36H530"/><path class="sO" d="M0 48H50M460 48H530M700 48H770"/><path class="sY" d="M700 24H770M920 24H960"/>
<use href="#B"/><use href="#O"/><use href="#O" x="60"/><use href="#O" x="80"/><use href="#O" x="100"/><use href="#B" x="120"/><use href="#O" x="140"/><use href="#B" x="160"/><use href="#O" x="180"/><use href="#B" x="200"/><use href="#O" x="220"/><use href="#B" x="240"/><use href="#O" x="240"/><use href="#B" x="260"/><use href="#O" x="260"/><use href="#B" x="300"/><use href="#O" x="320"/><use href="#B" x="340"/><use href="#O" x="360"/><use href="#B" x="380"/><use href="#O" x="400"/><use href="#O" x="420"/><use href="#B" x="440"/><use href="#B" x="460"/><use href="#O" x="460"/><use href="#O" x="540"/><use href="#O" x="560"/><use href="#B" x="580"/><use href="#O" x="600"/><use href="#O" x="620"/><use href="#O" x="640"/><use href="#G" x="660"/><use href="#R" x="680"/><use href="#Y" x="700"/><use href="#O" x="700"/><use href="#Y" x="780"/><use href="#O" x="780"/><use href="#R" x="800"/><use href="#B" x="840"/><use href="#B" x="855"/><use href="#O" x="855"/><use href="#B" x="900"/><use href="#O" x="900"/><use href="#Y" x="920"/></g>
</g>

<g id="r28" transform="translate(0,3610)">
<rect class="ph" x="246" y="-5" width="259" height="58"/>
<use href="#staff"/>
<text class="tm" y="-14"><tspan x="25">♩=133.4</tspan><tspan x="206">♩=139.3</tspan><tspan x="445">♩=133.4</tspan><tspan x="566">♩=145.2</tspan><tspan x="745">♩=143.1</tspan></text>
<text class="mn" y="-3"><tspan x="25">109</tspan><tspan x="265">110</tspan><tspan x="505">111</tspan><tspan x="745">112</tspan></text>
<text class="e" y="61"><tspan x="265">29</tspan><tspan x="505">210</tspan><tspan x="745">48</tspan><tspan x="985">48</tspan></text>
<text class="e nr" y="70"><tspan x="265">95685</tspan><tspan x="505">96525</tspan><tspan x="745">96717</tspan><tspan x="985">96909</tspan></text>
<text class="e nd" y="79"><tspan x="265">0.333 OD</tspan><tspan x="505">0.833 OD</tspan><tspan x="745">4 OD</tspan><tspan x="985">4 OD</tspan></text>
<g transform="translate(25,0)"><path class="sS" d="M220 48H270M460 12H960"/>
<use href="#S4" x="220"/><use href="#S3" x="280"/><use href="#S2" x="300"/><use href="#S1" x="340"/><use href="#S2" x="360"/><use href="#S3" x="400"/><use href="#S1" x="420"/><use href="#S0" x="440"/><use href="#S1" x="460"/></g>
</g>

<g id="r29" transform="translate(0,3740)">
<use href="#staff"/>
<text class="tm" y="-14"><tspan x="25">♩=145</tspan><tspan x="265">♩=143.1</tspan><tspan x="505">♩=149.7</tspan><tspan x="745">♩=144.7</tspan></text>
<text class="mn" y="-3"><tspan x="25">113</tspan><tspan x="265">114</tspan><tspan x="505">115</tspan><tspan x="745">116</tspan></text>
<text class="e" y="61"><tspan x="265">36</tspan><tspan x="505">125</tspan><tspan x="745">200</tspan><tspan x="985">225</tspan></text>
<text class="e nr" y="70"><tspan x="265">97053</tspan><tspan x="505">97553</tspan><tspan x="745">98353</tspan><tspan x="985">99253</tspan></text>
<text class="e nd" y="79" x="265">3 OD</text>
<g transform="translate(25,0)"><path class="sS" d="M0 12H180"/>
<use href="#G" x="280"/><use href="#G" x="300"/><use href="#G" x="400"/><use href="#G" x="420"/><use href="#G" x="460"/><use href="#G" x="580"/><use href="#G" x="600"/><use href="#R" x="600"/><use href="#G" x="640"/><use href="#G" x="660"/><use href="#Y" x="660"/><use href="#G" x="700"/><use href="#R" x="700"/><use href="#G" x="760"/><use href="#G" x="780"/><use href="#Y" x="780"/><use href="#G" x="820"/><use href="#G" x="840"/><use href="#R" x="840"/><use href="#G" x="880"/><use href="#G" x="900"/><use href="#Y" x="900"/></g>
</g>

<g id="r30" transform="translate(0,3870)">
<rect class="so" x="25" y="-10" width="960" height="69"/>
<use href="#staff"/>
<text class="tm" y="-14"><tspan x="25">♩=144.9</tspan><tspan x="265">♩=146.3</tspan><tspan x="505">♩=149.9</tspan><tspan x="745">♩=146.1</tspan></text>
<text class="mn" y="-3"><tspan x="25">117</tspan><tspan x="265">118</tspan><tspan x="505">119</tspan><tspan x="745">120</tspan></text>
<text class="e" y="61"><tspan x="265">300</tspan><tspan x="505">300</tspan><tspan x="745">300</tspan><tspan x="985">287</tspan></text>
<text class="e nr" y="70"><tspan x="265">100453</tspan><tspan x="505">101653</tspan><tspan x="745">102853</tspan><tspan x="985">104001</tspan></text>
<g transform="translate(25,0)"><path class="sY" d="M720 24H770M950 24H960"/>
<use href="#PY"/><use href="#PY" x="240"/><use href="#PY" x="480"/><use href="#Y" x="720"/><use href="#Y" x="780"/><use href="#G" x="800"/><use href="#R" x="820"/><use href="#Y" x="840"/><use href="#B" x="860"/><use href="#O" x="860"/><use href="#R" x="900"/><use href="#G" x="920"/><use href="#R" x="940"/><use href="#Y" x="950"/></g>
</g>

<g id="r31" transform="translate(0,4000)">
<rect class="so" x="25" y="-10" width="960" height="69"/>
<use href="#staff"/>
<text class="tm" y="-14"><tspan x="25">♩=144.9</tspan><tspan x="265">♩=142.6</tspan><tspan x="505">♩=142.3</tspan><tspan x="745">♩=141.6</tspan></text>
<text class="mn" y="-3"><tspan x="25">121</tspan><tspan x="265">122</tspan><tspan x="505">123</tspan><tspan x="745">124</tspan></text>
<text class="e" y="61"><tspan x="265">132</tspan><tspan x="505">214</tspan><tspan x="745">196</tspan><tspan x="985">256</tspan></text>
<text class="e nr" y="70"><tspan x="265">104529</tspan><tspan x="505">105385</tspan><tspan x="745">106169</tspan><tspan x="985">107193</tspan></text>
<g transform="translate(25,0)"><path class="sY" d="M0 24H110M460 24H510M690 24H750"/><path class="sO" d="M180 48H230M600 48H645"/><path class="sB" d="M240 36H290"/>
<use href="#B" x="120"/><use href="#O" x="130"/><use href="#B" x="170"/><use href="#O" x="180"/><use href="#B" x="240"/><use href="#Y" x="300"/><use href="#Y" x="340"/><use href="#R" x="360"/><use href="#Y" x="375"/><use href="#G" x="390"/><use href="#R" x="420"/><use href="#Y" x="460"/><use href="#Y" x="525"/><use href="#B" x="540"/><use href="#O" x="555"/><use href="#Y" x="585"/><use href="#O" x="600"/><use href="#B" x="660"/><use href="#Y" x="690"/><use href="#G" x="760"/><use href="#G" x="780"/><use href="#Y" x="800"/><use href="#Y" x="820"/><use href="#Y" x="840"/><use href="#Y" x="860"/><use href="#Y" x="880"/><use href="#Y" x="900"/><use href="#Y" x="920"/><use href="#Y" x="940"/></g>
</g>

<g id="r32" transform="translate(0,4130)">
<rect class="so" x="25" y="-10" width="960" height="69"/>
<use href="#staff"/>
<text class="tm" y="-14"><tspan x="25">♩=142.6</tspan><tspan x="265">♩=146.2</tspan><tspan x="505">♩=142.2</tspan><tspan x="745">♩=140.1</tspan></text>
<text class="mn" y="-3"><tspan x="25">125</tspan><tspan x="265">126</tspan><tspan x="505">127</tspan><tspan x="745">128</tspan></text>
<text class="e" y="61"><tspan x="265">281</tspan><tspan x="505">235</tspan><tspan x="745">302</tspan><tspan x="985">235</tspan></text>
<text class="e nr" y="70"><tspan x="265">108317</tspan><tspan x="505">109257</tspan><tspan x="745">110465</tspan><tspan x="985">111405</tspan></text>
<g transform="translate(25,0)"><path class="sB" d="M210 36H290M710 36H770"/>
<use href="#R"/><use href="#Y" x="20"/><use href="#Y" x="40"/><use href="#Y" x="60"/><use href="#Y" x="80"/><use href="#Y" x="100"/><use href="#Y" x="120"/><use href="#Y" x="140"/><use href="#B" x="160"/><use href="#O" x="180"/><use href="#B" x="210"/><use href="#Y" x="300"/><use href="#Y" x="320"/><use href="#Y" x="340"/><use href="#R" x="360"/><use href="#Y" x="380"/><use href="#Y" x="400"/><use href="#Y" x="420"/><use href="#Y" x="440"/><use href="#Y" x="460"/><use href="#Y" x="480"/><use href="#Y" x="500"/><use href="#Y" x="520"/><use href="#Y" x="540"/><use href="#Y" x="560"/><use href="#Y" x="580"/><use href="#Y" x="600"/><use href="#Y" x="620"/><use href="#Y" x="640"/><use href="#B" x="660"/><use href="#O" x="680"/><use href="#B" x="710"/><use href="#Y" x="780"/><use href="#Y" x="800"/><use href="#Y" x="820"/><use href="#Y" x="840"/><use href="#Y" x="860"/><use href="#Y" x="880"/><use href="#Y" x="900"/><use href="#Y" x="920"/><use href="#Y" x="940"/></g>
</g>

<g id="r33" transform="translate(0,4260)">
<rect class="so" x="25" y="-10" width="671" height="69"/>
<use href="#staff"/>
<text x="697" y="-25">143 notes</text>
<text class="tm" y="-14"><tspan x="25">♩=142.7</tspan><tspan x="265">♩=143</tspan><tspan x="505">♩=149.5</tspan><tspan x="745">♩=138</tspan></text>
<text class="mn" y="-3"><tspan x="25">129</tspan><tspan x="265">130</tspan><tspan x="505">131</tspan><tspan x="745">132</tspan></text>
<text class="e" y="61"><tspan x="265">300</tspan><tspan x="505">200</tspan><tspan x="745">200</tspan><tspan x="985">137</tspan></text>
<text class="e nr" y="70"><tspan x="265">112605</tspan><tspan x="505">113405</tspan></text>
<text class="e" y="70" x="745"><tspan class="ng">128505</tspan> <tspan class="nr">114205</tspan></text>
<text class="e" y="70" x="985"><tspan class="ng">129057</tspan> <tspan class="nr">114757</tspan></text>
<g transform="translate(25,0)"><path class="sG" d="M720 0H831"/><path class="sB" d="M880 36H960"/>
<use href="#PY"/><use href="#Y" x="240"/><use href="#B" x="280"/><use href="#Y" x="320"/><use href="#R" x="330"/><use href="#G" x="360"/><use href="#R" x="400"/><use href="#Y" x="440"/><use href="#B" x="450"/><use href="#B" x="480"/><use href="#O" x="480"/><use href="#B" x="520"/><use href="#Y" x="560"/><use href="#B" x="580"/><use href="#Y" x="600"/><use href="#R" x="620"/><use href="#Y" x="660"/><use href="#G" x="720"/><use href="#R" x="840"/><use href="#Y" x="860"/><use href="#B" x="880"/></g>
</g>

<g id="footer">
<text class="ft" x="0" y="4388" style="fill:#999">http://charts.ajanata.com/rb/</text>
<text class="ft" x="0" y="4402" style="fill:#f00">WARNING: Work in progress. This information has NOT BEEN VERIFIED and MAY BE INCORRECT.</text>
<text class="ft" x="690" y="4388" style="fill:#999">Generated at Fri, 26 Aug 2011 05:34:02 -0400.</text>
<text class="ft" x="690" y="4402" style="fill:#999">Generated by ajanata’s Chart Generator, r299.</text>
</g>
</g>
</svg>
